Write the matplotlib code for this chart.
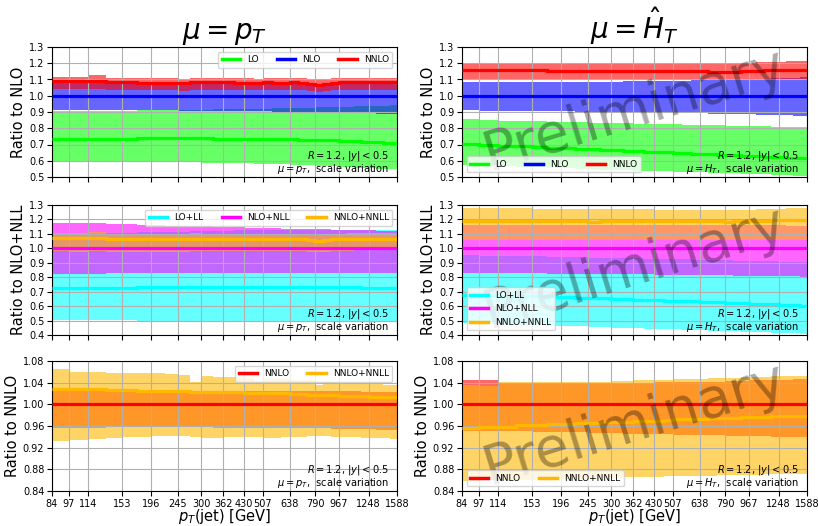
import matplotlib
matplotlib.use('Agg')
import matplotlib.pyplot as plt
from matplotlib.lines import Line2D
from matplotlib.ticker import FixedLocator, NullLocator, FormatStrFormatter

# pT(jet) bin edges [GeV] and the labelled ticks
pt_edges = [84, 97, 114, 133, 153, 174, 196, 220, 245, 272, 300, 330, 362, 395, 430, 468, 507,
            548, 592, 638, 686, 737, 790, 846, 905, 967, 1032, 1101, 1172, 1248, 1327, 1410, 1497, 1588]
pt_ticks = [84, 97, 114, 153, 196, 245, 300, 362, 430, 507, 638, 790, 967, 1248, 1588]
unity = [1.0] * 33

# ---- ratio to NLO, mu = pT ----
lo_pt = [0.733, 0.734, 0.735, 0.736, 0.736, 0.737, 0.737, 0.737, 0.737, 0.737, 0.737, 0.736, 0.736, 0.736, 0.735, 0.735, 0.734,
         0.733, 0.732, 0.731, 0.730, 0.729, 0.728, 0.726, 0.725, 0.723, 0.721, 0.719, 0.717, 0.715, 0.713, 0.710, 0.707]
lo_pt_up = [0.905, 0.905, 0.906, 0.907, 0.908, 0.910, 0.911, 0.912, 0.913, 0.914, 0.915, 0.916, 0.917, 0.918, 0.919, 0.920, 0.921,
            0.922, 0.923, 0.924, 0.925, 0.927, 0.928, 0.929, 0.930, 0.932, 0.933, 0.934, 0.936, 0.937, 0.938, 0.940, 0.942]
lo_pt_dn = [0.600, 0.599, 0.598, 0.597, 0.596, 0.595, 0.594, 0.593, 0.592, 0.590, 0.589, 0.588, 0.587, 0.585, 0.584, 0.582, 0.580,
            0.579, 0.577, 0.575, 0.573, 0.571, 0.569, 0.567, 0.565, 0.562, 0.560, 0.557, 0.555, 0.553, 0.551, 0.549, 0.547]
nlo_pt_up = [1.077, 1.077, 1.078, 1.076, 1.076, 1.076, 1.075, 1.075, 1.074, 1.075, 1.075, 1.075, 1.075, 1.074, 1.074, 1.074, 1.074,
             1.074, 1.074, 1.074, 1.073, 1.068, 1.066, 1.069, 1.073, 1.073, 1.073, 1.073, 1.073, 1.073, 1.072, 1.072, 1.072]
nlo_pt_dn = [0.913, 0.913, 0.912, 0.912, 0.911, 0.911, 0.910, 0.910, 0.909, 0.909, 0.908, 0.907, 0.907, 0.906, 0.905, 0.905, 0.904,
             0.903, 0.902, 0.901, 0.900, 0.899, 0.898, 0.897, 0.896, 0.895, 0.894, 0.893, 0.892, 0.891, 0.890, 0.889, 0.888]
nnlo_pt = [1.090, 1.089, 1.093, 1.082, 1.082, 1.081, 1.080, 1.080, 1.076, 1.085, 1.083, 1.082, 1.083, 1.080, 1.080, 1.079, 1.082,
           1.080, 1.081, 1.082, 1.080, 1.072, 1.069, 1.074, 1.080, 1.082, 1.083, 1.084, 1.085, 1.085, 1.085, 1.084, 1.084]
nnlo_pt_up = [1.117, 1.116, 1.126, 1.110, 1.109, 1.108, 1.107, 1.107, 1.104, 1.111, 1.110, 1.109, 1.110, 1.107, 1.107, 1.106, 1.109,
              1.107, 1.108, 1.109, 1.107, 1.100, 1.097, 1.102, 1.107, 1.109, 1.110, 1.111, 1.112, 1.112, 1.112, 1.111, 1.111]
nnlo_pt_dn = [1.040, 1.040, 1.042, 1.036, 1.036, 1.035, 1.034, 1.034, 1.031, 1.038, 1.036, 1.035, 1.036, 1.034, 1.034, 1.033, 1.035,
              1.034, 1.035, 1.035, 1.034, 1.027, 1.025, 1.029, 1.034, 1.035, 1.036, 1.037, 1.037, 1.037, 1.037, 1.036, 1.036]

# ---- ratio to NLO, mu = HT ----
lo_ht = [0.703, 0.698, 0.693, 0.689, 0.685, 0.681, 0.677, 0.674, 0.671, 0.668, 0.665, 0.662, 0.659, 0.656, 0.654, 0.651, 0.649,
         0.646, 0.644, 0.642, 0.640, 0.637, 0.635, 0.633, 0.631, 0.629, 0.627, 0.625, 0.623, 0.621, 0.619, 0.618, 0.616]
lo_ht_up = [0.857, 0.848, 0.846, 0.844, 0.842, 0.840, 0.838, 0.837, 0.835, 0.834, 0.832, 0.831, 0.829, 0.828, 0.826, 0.825, 0.824,
            0.822, 0.821, 0.820, 0.819, 0.817, 0.816, 0.815, 0.814, 0.813, 0.812, 0.811, 0.810, 0.809, 0.808, 0.806, 0.805]
lo_ht_dn = [0.575, 0.571, 0.567, 0.563, 0.560, 0.557, 0.554, 0.551, 0.548, 0.546, 0.544, 0.542, 0.540, 0.538, 0.536, 0.534, 0.532,
            0.531, 0.529, 0.528, 0.526, 0.525, 0.523, 0.522, 0.520, 0.519, 0.517, 0.516, 0.514, 0.512, 0.510, 0.508, 0.506]
nlo_ht_up = [1.082, 1.082, 1.083, 1.083, 1.084, 1.084, 1.085, 1.085, 1.086, 1.086, 1.087, 1.088, 1.088, 1.089, 1.090, 1.091, 1.092,
             1.093, 1.094, 1.095, 1.096, 1.097, 1.099, 1.100, 1.101, 1.103, 1.104, 1.105, 1.107, 1.108, 1.110, 1.111, 1.113]
nlo_ht_dn = [0.910, 0.909, 0.908, 0.907, 0.906, 0.905, 0.904, 0.903, 0.902, 0.901, 0.900, 0.899, 0.898, 0.897, 0.896, 0.895, 0.894,
             0.893, 0.892, 0.891, 0.890, 0.889, 0.888, 0.887, 0.886, 0.885, 0.884, 0.883, 0.882, 0.880, 0.879, 0.877, 0.876]
nnlo_ht = [1.157, 1.157, 1.158, 1.156, 1.156, 1.155, 1.155, 1.154, 1.154, 1.153, 1.153, 1.153, 1.152, 1.152, 1.152, 1.151, 1.151,
           1.150, 1.150, 1.150, 1.149, 1.148, 1.148, 1.149, 1.150, 1.152, 1.154, 1.156, 1.157, 1.158, 1.159, 1.160, 1.161]
nnlo_ht_up = [1.200, 1.200, 1.201, 1.199, 1.199, 1.198, 1.198, 1.197, 1.197, 1.196, 1.196, 1.196, 1.195, 1.195, 1.195, 1.195, 1.195,
              1.195, 1.195, 1.196, 1.196, 1.197, 1.198, 1.199, 1.201, 1.203, 1.205, 1.207, 1.209, 1.210, 1.212, 1.213, 1.215]
nnlo_ht_dn = [1.101, 1.101, 1.102, 1.100, 1.100, 1.100, 1.100, 1.099, 1.099, 1.099, 1.099, 1.098, 1.098, 1.098, 1.098, 1.098, 1.098,
              1.097, 1.097, 1.097, 1.097, 1.096, 1.096, 1.096, 1.096, 1.096, 1.096, 1.096, 1.096, 1.096, 1.096, 1.096, 1.096]

# ---- ratio to NLO+NLL, mu = pT ----
loll_pt = [0.724, 0.725, 0.726, 0.727, 0.728, 0.729, 0.730, 0.731, 0.732, 0.732, 0.733, 0.733, 0.734, 0.734, 0.734, 0.734, 0.734,
           0.734, 0.734, 0.733, 0.733, 0.733, 0.732, 0.732, 0.731, 0.730, 0.730, 0.729, 0.728, 0.727, 0.726, 0.725, 0.724]
loll_pt_up = [1.100, 1.102, 1.104, 1.106, 1.108, 1.110, 1.112, 1.114, 1.116, 1.118, 1.120, 1.121, 1.123, 1.124, 1.125, 1.126, 1.127,
              1.128, 1.129, 1.130, 1.130, 1.130, 1.130, 1.130, 1.130, 1.129, 1.129, 1.128, 1.128, 1.127, 1.127, 1.126, 1.126]
loll_pt_dn = [0.503, 0.502, 0.502, 0.501, 0.501, 0.500, 0.500, 0.500, 0.499, 0.499, 0.498, 0.498, 0.498, 0.497, 0.497, 0.496, 0.496,
              0.495, 0.495, 0.495, 0.494, 0.494, 0.493, 0.493, 0.493, 0.492, 0.492, 0.491, 0.491, 0.491, 0.490, 0.490, 0.490]
nlonll_pt_up = [1.178, 1.176, 1.172, 1.169, 1.166, 1.163, 1.160, 1.158, 1.156, 1.154, 1.152, 1.150, 1.148, 1.146, 1.144, 1.142, 1.140,
                1.139, 1.137, 1.136, 1.134, 1.133, 1.132, 1.131, 1.129, 1.128, 1.127, 1.126, 1.125, 1.124, 1.123, 1.122, 1.121]
nlonll_pt_dn = [0.824, 0.825, 0.825, 0.826, 0.826, 0.826, 0.826, 0.827, 0.827, 0.827, 0.827, 0.827, 0.827, 0.828, 0.828, 0.828, 0.828,
                0.828, 0.828, 0.828, 0.828, 0.829, 0.829, 0.829, 0.829, 0.829, 0.829, 0.829, 0.829, 0.829, 0.829, 0.829, 0.829]
nnlonnll_pt = [1.073, 1.070, 1.075, 1.066, 1.066, 1.065, 1.065, 1.064, 1.062, 1.068, 1.066, 1.065, 1.066, 1.064, 1.064, 1.063, 1.066,
               1.064, 1.065, 1.066, 1.064, 1.056, 1.052, 1.058, 1.063, 1.065, 1.066, 1.067, 1.068, 1.068, 1.068, 1.067, 1.067]
nnlonnll_pt_up = [1.108, 1.106, 1.112, 1.102, 1.102, 1.101, 1.101, 1.100, 1.098, 1.104, 1.102, 1.101, 1.102, 1.100, 1.100, 1.099, 1.102,
                  1.100, 1.101, 1.102, 1.100, 1.093, 1.089, 1.095, 1.100, 1.102, 1.103, 1.104, 1.105, 1.105, 1.105, 1.104, 1.104]
nnlonnll_pt_dn = [0.980, 0.978, 0.982, 0.976, 0.976, 0.976, 0.976, 0.976, 0.975, 0.980, 0.979, 0.979, 0.980, 0.979, 0.979, 0.979, 0.981,
                  0.980, 0.981, 0.982, 0.981, 0.975, 0.973, 0.978, 0.982, 0.984, 0.985, 0.986, 0.987, 0.987, 0.987, 0.987, 0.987]

# ---- ratio to NLO+NLL, mu = HT ----
loll_ht = [0.680, 0.677, 0.673, 0.670, 0.667, 0.664, 0.661, 0.658, 0.655, 0.653, 0.650, 0.648, 0.645, 0.643, 0.641, 0.638, 0.636,
           0.634, 0.632, 0.630, 0.628, 0.626, 0.624, 0.622, 0.620, 0.618, 0.616, 0.614, 0.612, 0.610, 0.608, 0.605, 0.603]
loll_ht_up = [0.952, 0.950, 0.948, 0.946, 0.944, 0.942, 0.940, 0.938, 0.936, 0.935, 0.933, 0.932, 0.930, 0.929, 0.927, 0.926, 0.925,
              0.923, 0.922, 0.921, 0.919, 0.918, 0.917, 0.915, 0.914, 0.913, 0.911, 0.910, 0.909, 0.907, 0.906, 0.904, 0.903]
loll_ht_dn = [0.483, 0.479, 0.475, 0.471, 0.468, 0.465, 0.462, 0.459, 0.456, 0.454, 0.451, 0.449, 0.447, 0.445, 0.443, 0.441, 0.439,
              0.437, 0.435, 0.433, 0.431, 0.429, 0.427, 0.425, 0.424, 0.422, 0.420, 0.418, 0.416, 0.415, 0.413, 0.411, 0.410]
nlonll_ht_up = [1.165, 1.165, 1.165, 1.164, 1.164, 1.164, 1.163, 1.163, 1.163, 1.162, 1.162, 1.162, 1.162, 1.161, 1.161, 1.161, 1.161,
                1.160, 1.160, 1.160, 1.160, 1.160, 1.159, 1.159, 1.159, 1.159, 1.159, 1.159, 1.159, 1.159, 1.158, 1.158, 1.158]
nlonll_ht_dn = [0.830, 0.829, 0.828, 0.827, 0.826, 0.825, 0.824, 0.823, 0.822, 0.822, 0.821, 0.820, 0.819, 0.819, 0.818, 0.817, 0.816,
                0.816, 0.815, 0.814, 0.813, 0.813, 0.812, 0.811, 0.811, 0.810, 0.809, 0.809, 0.808, 0.807, 0.807, 0.806, 0.805]
nnlonnll_ht = [1.186, 1.186, 1.187, 1.186, 1.186, 1.186, 1.186, 1.186, 1.185, 1.187, 1.187, 1.186, 1.187, 1.186, 1.186, 1.186, 1.187,
               1.187, 1.187, 1.188, 1.188, 1.186, 1.185, 1.187, 1.189, 1.190, 1.191, 1.192, 1.193, 1.194, 1.194, 1.195, 1.195]
nnlonnll_ht_up = [1.278, 1.278, 1.279, 1.276, 1.275, 1.274, 1.273, 1.272, 1.271, 1.272, 1.271, 1.270, 1.270, 1.269, 1.268, 1.267, 1.267,
                  1.266, 1.265, 1.265, 1.264, 1.263, 1.263, 1.264, 1.266, 1.268, 1.270, 1.272, 1.274, 1.275, 1.276, 1.277, 1.278]
nnlonnll_ht_dn = [1.061, 1.060, 1.061, 1.059, 1.059, 1.059, 1.058, 1.058, 1.058, 1.058, 1.058, 1.058, 1.057, 1.057, 1.057, 1.057, 1.057,
                  1.057, 1.056, 1.056, 1.056, 1.055, 1.055, 1.055, 1.056, 1.056, 1.056, 1.057, 1.057, 1.057, 1.057, 1.057, 1.057]

# ---- ratio to NNLO, mu = pT ----
r_nnlo_pt_up = [1.027, 1.027, 1.030, 1.026, 1.026, 1.026, 1.026, 1.026, 1.026, 1.025, 1.025, 1.025, 1.025, 1.025, 1.025, 1.025, 1.025,
                1.025, 1.025, 1.025, 1.025, 1.025, 1.024, 1.024, 1.024, 1.024, 1.024, 1.024, 1.023, 1.023, 1.023, 1.023, 1.023]
r_nnlo_pt_dn = [0.957, 0.957, 0.957, 0.958, 0.958, 0.958, 0.958, 0.958, 0.958, 0.958, 0.958, 0.957, 0.957, 0.957, 0.957, 0.957, 0.957,
                0.957, 0.957, 0.957, 0.956, 0.956, 0.956, 0.956, 0.955, 0.955, 0.955, 0.954, 0.954, 0.954, 0.953, 0.953, 0.953]
r_nnll_pt = [1.029, 1.028, 1.028, 1.026, 1.026, 1.025, 1.025, 1.024, 1.024, 1.023, 1.023, 1.022, 1.022, 1.022, 1.021, 1.021, 1.021,
             1.020, 1.020, 1.019, 1.019, 1.018, 1.018, 1.017, 1.017, 1.016, 1.016, 1.015, 1.015, 1.014, 1.014, 1.013, 1.013]
r_nnll_pt_up = [1.066, 1.059, 1.059, 1.058, 1.058, 1.057, 1.057, 1.056, 1.055, 1.041, 1.052, 1.051, 1.051, 1.050, 1.049, 1.043, 1.047,
                1.047, 1.046, 1.045, 1.045, 1.044, 1.035, 1.042, 1.041, 1.040, 1.039, 1.038, 1.038, 1.037, 1.037, 1.036, 1.036]
r_nnll_pt_dn = [0.932, 0.935, 0.936, 0.938, 0.940, 0.940, 0.941, 0.941, 0.941, 0.940, 0.938, 0.938, 0.939, 0.939, 0.939, 0.939, 0.938,
                0.938, 0.939, 0.940, 0.940, 0.941, 0.942, 0.941, 0.940, 0.940, 0.939, 0.939, 0.938, 0.938, 0.937, 0.937, 0.936]

# ---- ratio to NNLO, mu = HT ----
r_nnlo_ht_up = [1.045, 1.044, 1.040, 1.040, 1.040, 1.040, 1.040, 1.040, 1.040, 1.040, 1.040, 1.040, 1.040, 1.040, 1.041, 1.041, 1.041,
                1.041, 1.042, 1.042, 1.042, 1.042, 1.043, 1.043, 1.043, 1.044, 1.044, 1.044, 1.045, 1.045, 1.045, 1.046, 1.046]
r_nnlo_ht_dn = [0.951, 0.951, 0.950, 0.950, 0.949, 0.949, 0.948, 0.948, 0.947, 0.947, 0.947, 0.946, 0.946, 0.946, 0.945, 0.945, 0.944,
                0.944, 0.944, 0.943, 0.943, 0.943, 0.942, 0.942, 0.942, 0.941, 0.941, 0.941, 0.940, 0.940, 0.940, 0.939, 0.939]
r_nnll_ht = [0.957, 0.958, 0.959, 0.961, 0.962, 0.963, 0.964, 0.965, 0.966, 0.967, 0.968, 0.968, 0.969, 0.970, 0.970, 0.971, 0.972,
             0.972, 0.973, 0.973, 0.974, 0.974, 0.975, 0.975, 0.976, 0.976, 0.977, 0.977, 0.978, 0.978, 0.978, 0.979, 0.979]
r_nnll_ht_up = [1.035, 1.033, 1.041, 1.041, 1.041, 1.041, 1.041, 1.041, 1.042, 1.042, 1.043, 1.043, 1.044, 1.044, 1.045, 1.045, 1.046,
                1.046, 1.047, 1.047, 1.048, 1.048, 1.049, 1.049, 1.050, 1.050, 1.051, 1.051, 1.052, 1.052, 1.053, 1.053, 1.053]
r_nnll_ht_dn = [0.859, 0.860, 0.860, 0.861, 0.861, 0.862, 0.862, 0.863, 0.863, 0.864, 0.864, 0.865, 0.865, 0.866, 0.866, 0.867, 0.867,
                0.867, 0.868, 0.868, 0.868, 0.869, 0.869, 0.869, 0.870, 0.870, 0.870, 0.871, 0.871, 0.871, 0.872, 0.872, 0.872]

c_lo, c_nlo, c_nnlo = 'lime', 'blue', 'red'
c_loll, c_nlonll, c_nnlonnll = 'cyan', 'magenta', '#ffb800'


def draw_panel(ax, series, ylim, yticks, yfmt, ylabel, scale_tex, legend_loc, legend_ncol, watermark):
    # bands first, central lines on top
    for cen, up, dn, color, label in series:
        ax.stairs(up, pt_edges, baseline=dn, fill=True, color=color, alpha=0.6, lw=0)
    for cen, up, dn, color, label in series:
        ax.stairs(cen, pt_edges, baseline=None, color=color, lw=2.3, zorder=3)
    ax.set_xscale('log')
    ax.set_xlim(84, 1588)
    ax.xaxis.set_major_locator(FixedLocator(pt_ticks))
    ax.xaxis.set_minor_locator(NullLocator())
    ax.set_xticklabels([])
    ax.set_ylim(*ylim)
    ax.set_yticks(yticks)
    ax.yaxis.set_major_formatter(FormatStrFormatter(yfmt))
    ax.tick_params(labelsize=7, pad=2)
    ax.grid(True)
    ax.set_ylabel(ylabel, fontsize=10.5, labelpad=2)
    handles = [Line2D([], [], color=s[3], lw=2.5) for s in series]
    ax.legend(handles, [s[4] for s in series], loc=legend_loc, ncol=legend_ncol, fontsize=6.5)
    ax.text(0.977, 0.145, r'$R = 1.2$, $|y| < 0.5$', transform=ax.transAxes,
            ha='right', va='baseline', fontsize=7.1)
    ax.text(0.977, 0.04, scale_tex + ',  scale variation', transform=ax.transAxes,
            ha='right', va='baseline', fontsize=7.1)
    if watermark:
        ax.text(0.5, 0.51, 'Preliminary', transform=ax.transAxes, fontsize=40, rotation=17,
                color='k', alpha=0.33, ha='center', va='center', zorder=4)


fig = plt.figure(figsize=(8.18, 5.26), dpi=100)
col_left = [52 / 818, 462 / 818]
col_w = 345 / 818
row_bottom = [(526 - 177) / 526, (526 - 335) / 526, (526 - 491) / 526]
row_h = 130 / 526

scale_labels = [r'$\mu = p_T$', r'$\mu = H_T$']
titles = [r'$\mu = p_T$', r'$\mu = \hat{H}_T$']
y1 = [0.5, 0.6, 0.7, 0.8, 0.9, 1.0, 1.1, 1.2, 1.3]
y2 = [0.4, 0.5, 0.6, 0.7, 0.8, 0.9, 1.0, 1.1, 1.2, 1.3]
y3 = [0.84, 0.88, 0.92, 0.96, 1.00, 1.04, 1.08]

panels = [
    [
        ([(lo_pt, lo_pt_up, lo_pt_dn, c_lo, 'LO'),
          (unity, nlo_pt_up, nlo_pt_dn, c_nlo, 'NLO'),
          (nnlo_pt, nnlo_pt_up, nnlo_pt_dn, c_nnlo, 'NNLO')],
         (0.5, 1.3), y1, '%.1f', 'Ratio to NLO', 'upper right', 3),
        ([(loll_pt, loll_pt_up, loll_pt_dn, c_loll, 'LO+LL'),
          (unity, nlonll_pt_up, nlonll_pt_dn, c_nlonll, 'NLO+NLL'),
          (nnlonnll_pt, nnlonnll_pt_up, nnlonnll_pt_dn, c_nnlonnll, 'NNLO+NNLL')],
         (0.4, 1.3), y2, '%.1f', 'Ratio to NLO+NLL', 'upper right', 3),
        ([(unity, r_nnlo_pt_up, r_nnlo_pt_dn, c_nnlo, 'NNLO'),
          (r_nnll_pt, r_nnll_pt_up, r_nnll_pt_dn, c_nnlonnll, 'NNLO+NNLL')],
         (0.84, 1.08), y3, '%.2f', 'Ratio to NNLO', 'upper right', 2),
    ],
    [
        ([(lo_ht, lo_ht_up, lo_ht_dn, c_lo, 'LO'),
          (unity, nlo_ht_up, nlo_ht_dn, c_nlo, 'NLO'),
          (nnlo_ht, nnlo_ht_up, nnlo_ht_dn, c_nnlo, 'NNLO')],
         (0.5, 1.3), y1, '%.1f', 'Ratio to NLO', 'lower left', 3),
        ([(loll_ht, loll_ht_up, loll_ht_dn, c_loll, 'LO+LL'),
          (unity, nlonll_ht_up, nlonll_ht_dn, c_nlonll, 'NLO+NLL'),
          (nnlonnll_ht, nnlonnll_ht_up, nnlonnll_ht_dn, c_nnlonnll, 'NNLO+NNLL')],
         (0.4, 1.3), y2, '%.1f', 'Ratio to NLO+NLL', 'lower left', 1),
        ([(unity, r_nnlo_ht_up, r_nnlo_ht_dn, c_nnlo, 'NNLO'),
          (r_nnll_ht, r_nnll_ht_up, r_nnll_ht_dn, c_nnlonnll, 'NNLO+NNLL')],
         (0.84, 1.08), y3, '%.2f', 'Ratio to NNLO', 'lower left', 2),
    ],
]

for col in range(2):
    for row in range(3):
        ax = fig.add_axes([col_left[col], row_bottom[row], col_w, row_h])
        series, ylim, yticks, yfmt, ylabel, loc, ncol = panels[col][row]
        draw_panel(ax, series, ylim, yticks, yfmt, ylabel, scale_labels[col], loc, ncol, watermark=(col == 1))
        if row == 0:
            ax.set_title(titles[col], fontsize=20, pad=5)
        if row == 2:
            ax.set_xticklabels([str(t) for t in pt_ticks])
            ax.set_xlabel(r'$p_T$(jet) [GeV]', fontsize=10.5, labelpad=-1)

fig.savefig('out.png', dpi=100)
